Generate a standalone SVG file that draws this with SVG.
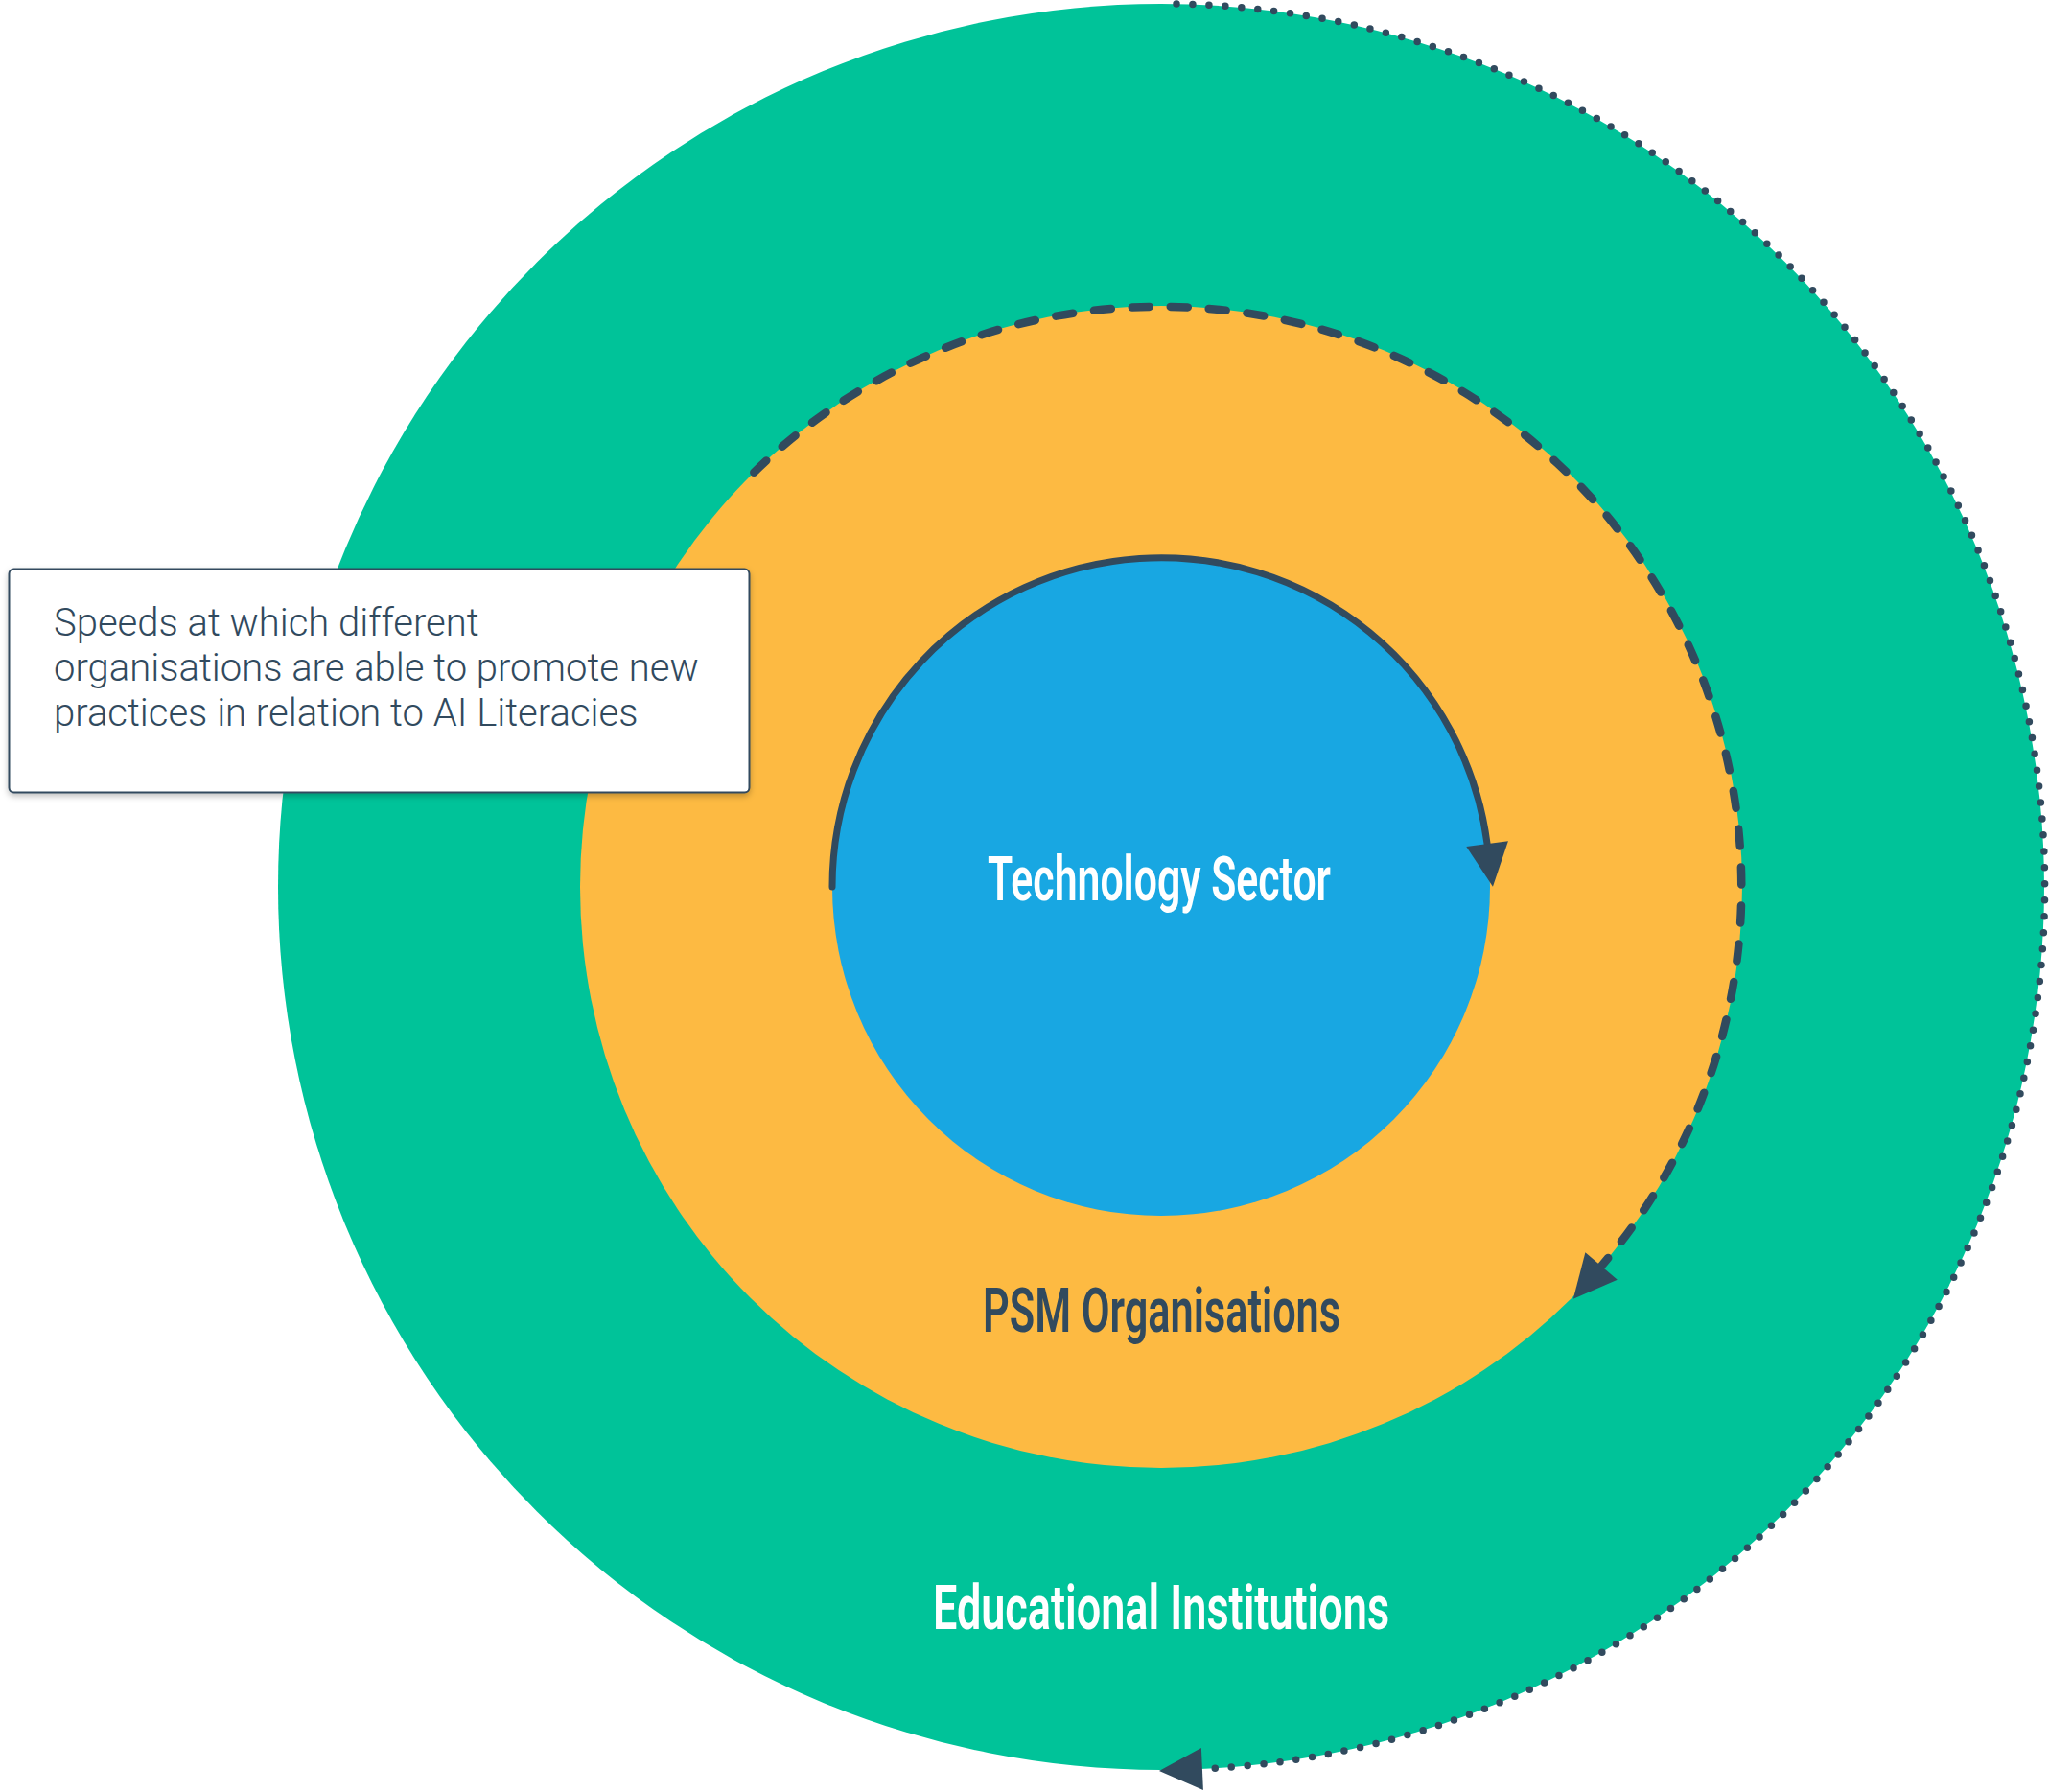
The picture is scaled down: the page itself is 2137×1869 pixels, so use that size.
<svg xmlns="http://www.w3.org/2000/svg" width="2137" height="1869" viewBox="0 0 2137 1869">
  <style>
    .label { font-family: Roboto, "Liberation Sans", sans-serif; font-weight: 600; font-size: 64px; text-anchor: start; }
    .note { font-family: Roboto, "Liberation Sans", sans-serif; font-weight: 300; font-size: 40px; fill: #314A5E; }
    .conn { fill: none; stroke: #314A5E; stroke-linecap: round; }
  </style>
  <defs>
    <marker id="arrow" markerUnits="userSpaceOnUse" markerWidth="46" markerHeight="44" refX="0" refY="22" orient="auto" overflow="visible">
      <path d="M0,0 L45,22 L0,44 Z" fill="#314A5E"/>
    </marker>
    <filter id="shadow" x="-10%" y="-10%" width="120%" height="130%">
      <feDropShadow dx="0" dy="3" stdDeviation="3" flood-color="#000000" flood-opacity="0.25"/>
    </filter>
  </defs>
  <rect width="2137" height="1869" fill="#FFFFFF"/>

  <g id="educational-institutions">
    <circle cx="1211" cy="925" r="921" fill="#00C399"/>
    <text class="label" x="973" y="1699" fill="#FFFFFF" textLength="476" lengthAdjust="spacingAndGlyphs">Educational Institutions</text>
  </g>

  <g id="psm-organisations">
    <circle cx="1211" cy="925" r="606" fill="#FDBA42"/>
    <text class="label" x="1025" y="1389" fill="#314A5E" textLength="373" lengthAdjust="spacingAndGlyphs">PSM Organisations</text>
  </g>

  <g id="technology-sector">
    <circle cx="1211" cy="925" r="343" fill="#18A7E2"/>
    <text class="label" x="1030" y="939" fill="#FFFFFF" textLength="358" lengthAdjust="spacingAndGlyphs">Technology Sector</text>
  </g>

  <g id="connectors">
    <path class="conn" d="M 868 925 A 343 343 0 0 1 1551.1 880.2" stroke-width="7" marker-end="url(#arrow)"/>
    <path class="conn" d="M 786.3 492.8 A 606 606 0 0 1 1670.1 1320.5" stroke-width="8.5" stroke-dasharray="18 22" marker-end="url(#arrow)"/>
    <path class="conn" d="M 1227 4.1 A 921 921 0 0 1 1253.9 1845" stroke-width="7.5" stroke-dasharray="0 17" marker-end="url(#arrow)"/>
  </g>

  <g id="note">
    <rect x="9.5" y="593.5" width="772" height="233" rx="5" ry="5" fill="#FFFFFF" stroke="#314A5E" stroke-width="2" filter="url(#shadow)"/>
    <text class="note" x="56" y="663">Speeds at which different</text>
    <text class="note" x="56" y="710">organisations are able to promote new</text>
    <text class="note" x="56" y="757">practices in relation to AI Literacies</text>
  </g>
</svg>
